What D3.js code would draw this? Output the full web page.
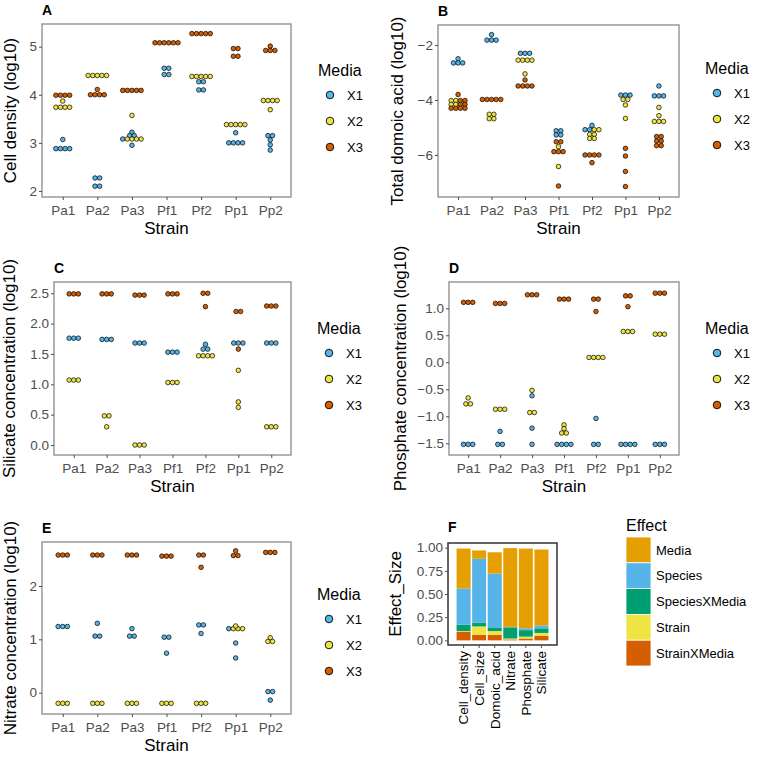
<!DOCTYPE html>
<html><head><meta charset="utf-8">
<script src="https://cdn.jsdelivr.net/npm/d3@7/dist/d3.min.js"></script>
<style>
body{margin:0;background:#fff;}
text{font-family:"Liberation Sans",Arial,sans-serif;}
</style></head>
<body><svg id="chart" width="760" height="757"></svg>
<script>
const strains = ["Pa1","Pa2","Pa3","Pf1","Pf2","Pp1","Pp2"];
const media = ["X1","X2","X3"];
const mediaColors = ["#56B4E9","#F0E442","#D55E00"];

// Panel A: Cell density (log10)
const cdX1 = [[3.07,2.88,2.88,2.88,2.88],[2.27,2.27,2.1,2.1],[3.22,3.15,3.15,3.08,2.95],[4.55,4.55,4.42,4.42],[4.27,4.27,4.1,4.1],[3.21,3.0,3.0,3.0,3.0],[3.15,3.15,3.06,2.96,2.85]];
const cdX2 = [[3.87,3.74,3.74,3.74,3.74],[4.4,4.4,4.4,4.4,4.4],[3.57,3.08,3.08,3.08,3.08],[],[4.38,4.38,4.38,4.38,4.38],[3.38,3.38,3.38,3.38,3.38],[3.88,3.88,3.88,3.88,3.69]];
const cdX3 = [[3.99,3.99,3.99,3.99],[4.11,4.0,4.0,4.0,4.0],[4.09,4.09,4.09,4.09,4.09],[5.08,5.08,5.08,5.08,5.08,5.08],[5.27,5.27,5.27,5.27,5.27],[4.96,4.96,4.8,4.8],[5.01,4.92,4.92,4.92]];
const cdTicks = [2,3,4,5];

// Panel B: Total domoic acid (log10)
const daX1 = [[-2.5,-2.65,-2.65,-2.65],[-1.62,-1.82,-1.82,-1.82],[-2.3,-2.3,-2.3],[-5.12,-5.12,-5.27,-5.27],[-4.92,-5.08,-5.08],[-3.82,-3.82,-3.82],[-3.49,-3.85,-3.85,-3.85]];
const daX2 = [[-4.02,-4.02,-4.16,-4.16],[-4.52,-4.52,-4.68,-4.68],[-2.55,-2.55,-2.55,-2.55,-3.05],[-5.7,-6.42],[-5.08,-5.08,-5.25,-5.25,-5.4,-5.4],[-3.98,-3.98,-4.18,-4.67],[-4.27,-4.57,-4.78,-4.78,-4.78]];
const daX3 = [[-3.8,-4.02,-4.02,-4.16,-4.16,-4.3,-4.3,-4.3,-4.3],[-3.98,-3.98,-3.98,-3.98,-3.98],[-3.27,-3.49,-3.49,-3.49,-3.49],[-5.52,-5.52,-5.88,-5.88,-5.88,-7.13],[-6.0,-6.0,-6.0,-6.0,-6.28],[-5.76,-6.04,-6.6,-7.15],[-5.33,-5.33,-5.49,-5.49,-5.66,-5.66]];
const daTicks = [-6,-4,-2];

// Panel C: Silicate concentration (log10)
const siX1 = [[1.76,1.76,1.76],[1.74,1.74,1.74],[1.68,1.68,1.68],[1.53,1.53,1.53],[1.66,1.58,1.58],[1.68,1.68,1.68],[1.68,1.68,1.68]];
const siX2 = [[1.07,1.07,1.07],[0.48,0.48,0.3],[0.0,0.0,0.0],[1.03,1.03,1.03],[1.47,1.47,1.47,1.47],[1.23,0.71,0.62],[0.3,0.3,0.3]];
const siX3 = [[2.49,2.49,2.49],[2.49,2.49,2.49],[2.47,2.47,2.47],[2.49,2.49,2.49],[2.5,2.5,2.28],[2.2,2.2,1.58],[2.29,2.29,2.29]];
const siTicks = [0,0.5,1,1.5,2,2.5];

// Panel D: Phosphate concentration (log10)
const phX1 = [[-1.52,-1.52,-1.52],[-1.28,-1.52,-1.52],[-0.62,-1.22,-1.52],[-1.52,-1.52,-1.52,-1.52],[-1.04,-1.52,-1.52],[-1.52,-1.52,-1.52,-1.52],[-1.52,-1.52,-1.52]];
const phX2 = [[-0.66,-0.77,-0.77],[-0.87,-0.87,-0.87],[-0.52,-0.93,-0.93],[-1.16,-1.23,-1.31,-1.31],[0.09,0.09,0.09,0.09],[0.57,0.57,0.57],[0.52,0.52,0.52]];
const phX3 = [[1.11,1.11,1.11],[1.09,1.09,1.09],[1.25,1.25,1.25],[1.17,1.17,1.17],[1.17,1.17,0.94],[1.23,1.23,1.03],[1.28,1.28,1.28]];
const phTicks = [-1.5,-1,-0.5,0,0.5,1];

// Panel E: Nitrate concentration (log10)
const niX1 = [[1.24,1.24,1.24],[1.3,1.06,1.06],[1.2,1.06,1.06],[1.04,1.04,0.74],[1.27,1.27,1.11],[1.2,0.93,0.65],[0.02,0.02,-0.14]];
const niX2 = [[-0.2,-0.2,-0.2],[-0.2,-0.2,-0.2],[-0.2,-0.2,-0.2],[-0.2,-0.2,-0.2],[-0.2,-0.2,-0.2],[1.25,1.2,1.2,1.2],[1.03,0.96,0.96]];
const niX3 = [[2.58,2.58,2.58],[2.58,2.58,2.58],[2.58,2.58,2.58],[2.56,2.56,2.56],[2.58,2.58,2.35],[2.66,2.57,2.57],[2.63,2.63,2.63]];
const niTicks = [0,1,2];

// Panel F: Effect sizes
const responses = ["Cell_density","Cell_size","Domoic_acid","Nitrate","Phosphate","Silicate"];
const effects = ["Media","Species","SpeciesXMedia","Strain","StrainXMedia"];
const effectColors = ["#E69F00","#56B4E9","#009E73","#F0E442","#D55E00"];
const mediaEffect = [0.43,0.09,0.23,0.85,0.86,0.82];
const speciesEffect = [0.39,0.69,0.58,0.005,0.02,0.03];
const speciesXMediaEffect = [0.07,0.04,0.04,0.12,0.07,0.05];
const strainEffect = [0.01,0.09,0.04,0.01,0.02,0.03];
const strainXMediaEffect = [0.09,0.06,0.06,0.01,0.02,0.05];
const effTicks = [0,0.25,0.5,0.75,1];

const svg = d3.select("#chart");
svg.append("rect").attr("width",760).attr("height",757).attr("fill","#fff");

const TICK_FS = 13.5, TITLE_FS = 17;

function styleAxis(ax){
  ax.select(".domain").remove();
  ax.selectAll(".tick line").attr("stroke","#4d4d4d").attr("stroke-width",1);
  ax.selectAll(".tick text").attr("fill","#4d4d4d").style("font-size",TICK_FS+"px")
    .style("font-family","'Liberation Sans',Arial,sans-serif");
}

function mediaLegend(lx, ly){
  const g = svg.append("g");
  g.append("text").attr("x",lx).attr("y",ly).style("font-size","16px").attr("fill","#000").text("Media");
  media.forEach((m,i)=>{
    const cy = ly + 19 + i*26;
    g.append("circle").attr("cx",lx+12).attr("cy",cy).attr("r",3.8)
      .attr("fill",mediaColors[i]).attr("stroke","#000").attr("stroke-width",0.9);
    g.append("text").attr("x",lx+29).attr("y",cy).attr("dy","0.36em").style("font-size","13px").attr("fill","#000").text(m);
  });
}

function dotPanel(o){
  const g = svg.append("g");
  const x = d3.scalePoint().domain(strains).range([o.x0,o.x1]).padding(0.6);
  const y = d3.scaleLinear().domain(o.domain).range([o.y1,o.y0]);
  g.append("rect").attr("x",o.x0).attr("y",o.y0).attr("width",o.x1-o.x0).attr("height",o.y1-o.y0)
    .attr("fill","#fff").attr("stroke","#8a8a8a").attr("stroke-width",1.3);
  const ay = g.append("g").attr("transform",`translate(${o.x0},0)`)
    .call(d3.axisLeft(y).tickValues(o.ticks).tickFormat(o.fmt).tickSize(3).tickPadding(2));
  styleAxis(ay);
  const ax = g.append("g").attr("transform",`translate(0,${o.y1})`)
    .call(d3.axisBottom(x).tickSize(3).tickPadding(5));
  styleAxis(ax);
  // dots
  const r = 2.3;
  strains.forEach((s,si)=>{
    const pts = [];
    o.data.forEach((arr,mi)=>{ (arr[si]||[]).forEach(v=>pts.push({v,mi})); });
    const groups = d3.groups(pts,d=>d.v);
    groups.forEach(([v,arr])=>{
      arr.sort((a,b)=>a.mi-b.mi);
      const n = arr.length;
      arr.forEach((p,i)=>{
        g.append("circle").attr("cx",x(s)+(i-(n-1)/2)*2*r).attr("cy",y(v)).attr("r",r)
          .attr("fill",mediaColors[p.mi]).attr("stroke","#000").attr("stroke-width",0.7);
      });
    });
  });
  // titles
  g.append("text").attr("x",(o.x0+o.x1)/2).attr("y",o.y1+37).attr("text-anchor","middle")
    .style("font-size",TITLE_FS+"px").text("Strain");
  g.append("text").attr("transform",`translate(${o.ylx},${(o.y0+o.y1)/2}) rotate(-90)`)
    .attr("text-anchor","middle").attr("dy","0.36em").style("font-size",TITLE_FS+"px").text(o.ylab);
  g.append("text").attr("x",o.x0).attr("y",o.y0-9).style("font-size","14px").style("font-weight","bold").text(o.letter);
  mediaLegend(o.lx,o.ly);
}

const f1 = d3.format("d"), f2 = d => d3.format(".1f")(d);

dotPanel({x0:42,x1:291,y0:24,y1:197,domain:[1.875,5.47],ticks:cdTicks,fmt:f1,
  data:[cdX1,cdX2,cdX3],ylab:"Cell density (log10)",ylx:10,letter:"A",lx:318,ly:76});
dotPanel({x0:438,x1:679,y0:25,y1:197,domain:[-7.53,-1.27],ticks:daTicks,fmt:f1,
  data:[daX1,daX2,daX3],ylab:"Total domoic acid (log10)",ylx:397,letter:"B",lx:705,ly:74});
dotPanel({x0:54,x1:291,y0:282,y1:455,domain:[-0.165,2.686],ticks:siTicks,fmt:f2,
  data:[siX1,siX2,siX3],ylab:"Silicate concentration (log10)",ylx:9,letter:"C",lx:317,ly:334});
dotPanel({x0:449,x1:679,y0:282,y1:455,domain:[-1.717,1.487],ticks:phTicks,fmt:f2,
  data:[phX1,phX2,phX3],ylab:"Phosphate concentration (log10)",ylx:400,letter:"D",lx:705,ly:334});
dotPanel({x0:42,x1:291,y0:542,y1:714,domain:[-0.40,2.825],ticks:niTicks,fmt:f1,
  data:[niX1,niX2,niX3],ylab:"Nitrate concentration (log10)",ylx:9.5,letter:"E",lx:317,ly:600});

// Panel F
(function(){
  const x0=448,x1=557,y0=543,y1=645;
  const g = svg.append("g");
  const x = d3.scaleBand().domain(responses).range([x0,x1]).paddingInner(0.1).paddingOuter(0.55);
  const y = d3.scaleLinear().domain([-0.05,1.05]).range([y1,y0]);
  const cols = [mediaEffect,speciesEffect,speciesXMediaEffect,strainEffect,strainXMediaEffect];
  const table = responses.map((r,i)=>{ const o={resp:r}; effects.forEach((e,k)=>o[e]=cols[k][i]); return o; });
  const stackKeys = effects.slice().reverse();
  const series = d3.stack().keys(stackKeys)(table);
  g.append("rect").attr("x",x0).attr("y",y0).attr("width",x1-x0).attr("height",y1-y0).attr("fill","#fff");
  series.forEach(sr=>{
    const col = effectColors[effects.indexOf(sr.key)];
    g.selectAll(null).data(sr).enter().append("rect")
      .attr("x",d=>x(d.data.resp)).attr("width",x.bandwidth())
      .attr("y",d=>y(d[1])).attr("height",d=>Math.max(0,y(d[0])-y(d[1])))
      .attr("fill",col);
  });
  g.append("rect").attr("x",x0).attr("y",y0).attr("width",x1-x0).attr("height",y1-y0)
    .attr("fill","none").attr("stroke","#333").attr("stroke-width",1.5);
  const ay = g.append("g").attr("transform",`translate(${x0},0)`)
    .call(d3.axisLeft(y).tickValues(effTicks).tickFormat(d3.format(".2f")).tickSize(3).tickPadding(2));
  styleAxis(ay);
  const ax = g.append("g").attr("transform",`translate(0,${y1})`)
    .call(d3.axisBottom(x).tickSize(3).tickPadding(5));
  styleAxis(ax);
  ax.selectAll(".tick text").attr("transform","rotate(-90)").attr("text-anchor","end")
    .attr("x",-6).attr("y",0).attr("dy","0.36em").attr("fill","#000");
  g.append("text").attr("transform",`translate(395,${(y0+y1)/2}) rotate(-90)`)
    .attr("text-anchor","middle").attr("dy","0.36em").style("font-size",TITLE_FS+"px").text("Effect_Size");
  g.append("text").attr("x",x0).attr("y",y0-11).style("font-size","14px").style("font-weight","bold").text("F");
  // legend
  const lg = svg.append("g");
  lg.append("text").attr("x",626).attr("y",531).style("font-size","16px").text("Effect");
  effects.forEach((e,i)=>{
    const ky = 537 + i*25.8;
    lg.append("rect").attr("x",626).attr("y",ky).attr("width",25).attr("height",25.8)
      .attr("fill",effectColors[i]).attr("stroke","#fff").attr("stroke-width",0.8);
    lg.append("text").attr("x",656).attr("y",ky+12.9).attr("dy","0.36em").style("font-size","13px").text(e);
  });
})();
</script></body></html>
